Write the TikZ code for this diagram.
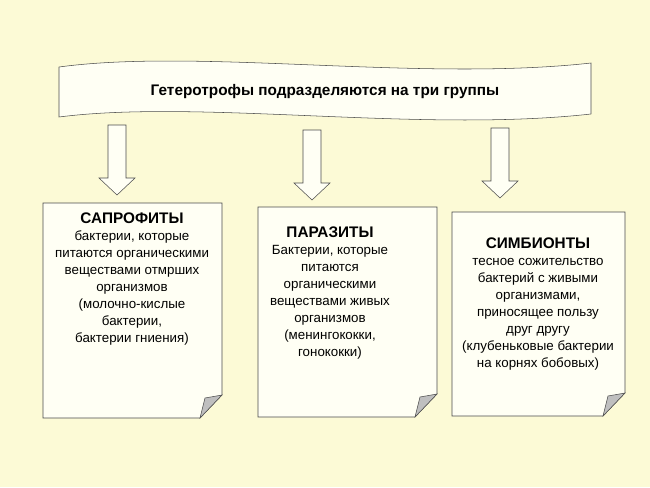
\documentclass[tikz,border=0pt]{standalone}
\usepackage{fontspec}
\setmainfont{Liberation Sans}
\definecolor{bgyel}{HTML}{FCFAD6}
\definecolor{paper}{HTML}{FFFFF4}
\tikzset{
  boxtext/.style={align=center, font=\fontsize{10}{12.8}\selectfont},
}
\newcommand{\foldbox}[4]{% x1,y1,x2,y2
  \draw[black!70, fill=paper] (#1,#2) -- (#3,#2) -- (#3,#4-23) -- (#3-22,#4) -- (#1,#4) -- cycle;
  \draw[black!70, fill=black!25] (#3-22,#4) -- (#3,#4-23) -- (#3-17,#4-20) -- cycle;
}
\newcommand{\blockarrow}[3]{% x, top, tip
  \draw[black!70, fill=paper] (#1-9,#2) -- (#1+9,#2) -- (#1+9,#3-17) -- (#1+18,#3-17)
    -- (#1,#3) -- (#1-18,#3-17) -- (#1-9,#3-17) -- cycle;
}
\begin{document}
\begin{tikzpicture}[x=0.75pt,y=-0.75pt]
\fill[bgyel] (0,0) rectangle (650,487);
\useasboundingbox (0,0) rectangle (650,487);

% banner
\draw[black!70, fill=paper] (59,67) .. controls (200,48) and (420,82) .. (591,63)
  -- (591,114) .. controls (420,133) and (200,99) .. (59,117) -- cycle;
\node[font=\bfseries\fontsize{11.5}{13}\selectfont] (title) at (325,92) {Гетеротрофы подразделяются на три группы};

% arrows
\blockarrow{117}{125}{195}
\blockarrow{312}{130}{200}
\blockarrow{500}{128}{198}

% boxes
\foldbox{43}{203}{222}{418}
\foldbox{258}{207}{437}{417}
\foldbox{452}{212}{625}{416}

\node[boxtext, anchor=north] (sapro) at (132,208) {{\bfseries\fontsize{11.5}{14}\selectfont САПРОФИТЫ}\\
бактерии, которые\\ питаются органическими\\ веществами отмрших\\ организмов\\
(молочно-кислые\\ бактерии,\\ бактерии гниения)};
\node[boxtext, anchor=north] (para) at (330,222) {{\bfseries\fontsize{11.5}{14}\selectfont ПАРАЗИТЫ}\\
Бактерии, которые\\ питаются\\ органическими\\ веществами живых\\ организмов\\
(менингококки,\\ гонококки)};
\node[boxtext, anchor=north] (simb) at (538,233) {{\bfseries\fontsize{11.5}{14}\selectfont СИМБИОНТЫ}\\
тесное сожительство\\ бактерий с живыми\\ организмами,\\ приносящее пользу\\ друг другу\\
(клубеньковые бактерии\\ на корнях бобовых)};
\end{tikzpicture}
\end{document}
